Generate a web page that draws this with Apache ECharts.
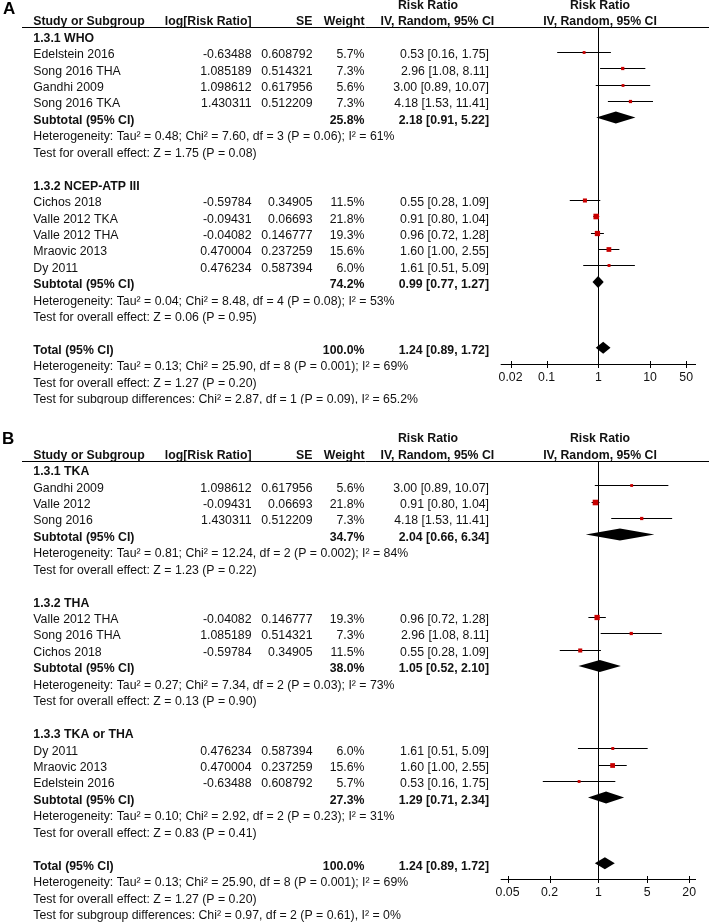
<!DOCTYPE html>
<html><head><meta charset="utf-8">
<script src="https://cdn.jsdelivr.net/npm/echarts@6/dist/echarts.min.js"></script>
<style>html,body{margin:0;padding:0;background:#fff}#c{width:709px;height:922px}</style>
</head><body><div id="c"></div>
<script>
// ---------------- Panel A data ----------------
const aGroupNames = ['1.3.1 WHO', '1.3.2 NCEP-ATP III'];
const aStudyGroup = [0, 0, 0, 0, 1, 1, 1, 1, 1];
const aStudyNames = ['Edelstein 2016', 'Song 2016 THA', 'Gandhi 2009', 'Song 2016 TKA',
  'Cichos 2018', 'Valle 2012 TKA', 'Valle 2012 THA', 'Mraovic 2013', 'Dy 2011'];
const aLogRR = ['-0.63488', '1.085189', '1.098612', '1.430311', '-0.59784', '-0.09431', '-0.04082', '0.470004', '0.476234'];
const aSE = ['0.608792', '0.514321', '0.617956', '0.512209', '0.34905', '0.06693', '0.146777', '0.237259', '0.587394'];
const aWeight = [5.7, 7.3, 5.6, 7.3, 11.5, 21.8, 19.3, 15.6, 6.0];
const aRR = [0.53, 2.96, 3.00, 4.18, 0.55, 0.91, 0.96, 1.60, 1.61];
const aLow = [0.16, 1.08, 0.89, 1.53, 0.28, 0.80, 0.72, 1.00, 0.51];
const aHigh = [1.75, 8.11, 10.07, 11.41, 1.09, 1.04, 1.28, 2.55, 5.09];
const aSubWeight = [25.8, 74.2];
const aSubRR = [2.18, 0.99];
const aSubLow = [0.91, 0.77];
const aSubHigh = [5.22, 1.27];
const aSubHet = ['Heterogeneity: Tau² = 0.48; Chi² = 7.60, df = 3 (P = 0.06); I² = 61%',
  'Heterogeneity: Tau² = 0.04; Chi² = 8.48, df = 4 (P = 0.08); I² = 53%'];
const aSubTest = ['Test for overall effect: Z = 1.75 (P = 0.08)', 'Test for overall effect: Z = 0.06 (P = 0.95)'];
const aTotal = [100.0, 1.24, 0.89, 1.72];
const aTotalNotes = ['Heterogeneity: Tau² = 0.13; Chi² = 25.90, df = 8 (P = 0.001); I² = 69%',
  'Test for overall effect: Z = 1.27 (P = 0.20)',
  'Test for subgroup differences: Chi² = 2.87, df = 1 (P = 0.09), I² = 65.2%'];
const aAxisTicks = [0.02, 0.1, 1, 10, 50];
const aAxisRange = [0.01292, 77.4];

// ---------------- Panel B data ----------------
const bGroupNames = ['1.3.1 TKA', '1.3.2 THA', '1.3.3 TKA or THA'];
const bStudyGroup = [0, 0, 0, 1, 1, 1, 2, 2, 2];
const bStudyNames = ['Gandhi 2009', 'Valle 2012', 'Song 2016', 'Valle 2012 THA', 'Song 2016 THA', 'Cichos 2018',
  'Dy 2011', 'Mraovic 2013', 'Edelstein 2016'];
const bLogRR = ['1.098612', '-0.09431', '1.430311', '-0.04082', '1.085189', '-0.59784', '0.476234', '0.470004', '-0.63488'];
const bSE = ['0.617956', '0.06693', '0.512209', '0.146777', '0.514321', '0.34905', '0.587394', '0.237259', '0.608792'];
const bWeight = [5.6, 21.8, 7.3, 19.3, 7.3, 11.5, 6.0, 15.6, 5.7];
const bRR = [3.00, 0.91, 4.18, 0.96, 2.96, 0.55, 1.61, 1.60, 0.53];
const bLow = [0.89, 0.80, 1.53, 0.72, 1.08, 0.28, 0.51, 1.00, 0.16];
const bHigh = [10.07, 1.04, 11.41, 1.28, 8.11, 1.09, 5.09, 2.55, 1.75];
const bSubWeight = [34.7, 38.0, 27.3];
const bSubRR = [2.04, 1.05, 1.29];
const bSubLow = [0.66, 0.52, 0.71];
const bSubHigh = [6.34, 2.10, 2.34];
const bSubHet = ['Heterogeneity: Tau² = 0.81; Chi² = 12.24, df = 2 (P = 0.002); I² = 84%',
  'Heterogeneity: Tau² = 0.27; Chi² = 7.34, df = 2 (P = 0.03); I² = 73%',
  'Heterogeneity: Tau² = 0.10; Chi² = 2.92, df = 2 (P = 0.23); I² = 31%'];
const bSubTest = ['Test for overall effect: Z = 1.23 (P = 0.22)', 'Test for overall effect: Z = 0.13 (P = 0.90)',
  'Test for overall effect: Z = 0.83 (P = 0.41)'];
const bTotal = [100.0, 1.24, 0.89, 1.72];
const bTotalNotes = ['Heterogeneity: Tau² = 0.13; Chi² = 25.90, df = 8 (P = 0.001); I² = 69%',
  'Test for overall effect: Z = 1.27 (P = 0.20)',
  'Test for subgroup differences: Chi² = 0.97, df = 2 (P = 0.61), I² = 0%'];
const bAxisTicks = [0.05, 0.2, 1, 5, 20];
const bAxisRange = [0.0399, 25.06];

// ---------------- Header labels ----------------
const headerTop = ['Risk Ratio', 'Risk Ratio'];
const headerCols = ['Study or Subgroup', 'log[Risk Ratio]', 'SE', 'Weight', 'IV, Random, 95% CI', 'IV, Random, 95% CI'];

// ---------------- Layout ----------------
const FONT = '"Liberation Sans", Arial, Helvetica, sans-serif';
const FS = 12.3;
const ROW_H = 16.44;
const COL = { name: 33.3, logrr: 251.5, se: 312.5, weight: 364.5, ci: 489 };
const HDR_X = { rrTop: 428, ciHdr: 437.4, plot: 600 };
const PLOT_LEFT = 500.7, PLOT_RIGHT = 696;
const TEXT_COLOR = '#111';
const SQUARE_K = 1.2;
const DIAMOND_H = 12;
const MARK_DY = -3;
const TICK_HALF = 3.5;

function fmtCI(rr, lo, hi) { return rr.toFixed(2) + ' [' + lo.toFixed(2) + ', ' + hi.toFixed(2) + ']'; }

function buildPanel(d) {
  const cells = [], marks = [];
  cells.push({ row: -2, x: HDR_X.rrTop, align: 'center', text: headerTop[0], bold: true });
  cells.push({ row: -2, x: HDR_X.plot, align: 'center', text: headerTop[1], bold: true });
  cells.push({ row: -1, x: COL.name, align: 'left', text: headerCols[0], bold: true });
  cells.push({ row: -1, x: COL.logrr, align: 'right', text: headerCols[1], bold: true });
  cells.push({ row: -1, x: COL.se, align: 'right', text: headerCols[2], bold: true });
  cells.push({ row: -1, x: COL.weight, align: 'right', text: headerCols[3], bold: true });
  cells.push({ row: -1, x: HDR_X.ciHdr, align: 'center', text: headerCols[4], bold: true });
  cells.push({ row: -1, x: HDR_X.plot, align: 'center', text: headerCols[5], bold: true });
  let r = 0;
  d.groups.forEach((g, gi) => {
    cells.push({ row: r, x: COL.name, align: 'left', text: g, bold: true }); r++;
    d.studyGroup.forEach((sg, si) => {
      if (sg !== gi) return;
      cells.push({ row: r, x: COL.name, align: 'left', text: d.names[si] });
      cells.push({ row: r, x: COL.logrr, align: 'right', text: d.logrr[si] });
      cells.push({ row: r, x: COL.se, align: 'right', text: d.se[si] });
      cells.push({ row: r, x: COL.weight, align: 'right', text: d.weight[si].toFixed(1) + '%' });
      cells.push({ row: r, x: COL.ci, align: 'right', text: fmtCI(d.rr[si], d.lo[si], d.hi[si]) });
      marks.push({ row: r, kind: 'study', rr: d.rr[si], lo: d.lo[si], hi: d.hi[si], w: d.weight[si] });
      r++;
    });
    cells.push({ row: r, x: COL.name, align: 'left', text: 'Subtotal (95% CI)', bold: true });
    cells.push({ row: r, x: COL.weight, align: 'right', text: d.subW[gi].toFixed(1) + '%', bold: true });
    cells.push({ row: r, x: COL.ci, align: 'right', text: fmtCI(d.subRR[gi], d.subLo[gi], d.subHi[gi]), bold: true });
    marks.push({ row: r, kind: 'diamond', rr: d.subRR[gi], lo: d.subLo[gi], hi: d.subHi[gi] });
    r++;
    cells.push({ row: r, x: COL.name, align: 'left', text: d.het[gi] }); r++;
    cells.push({ row: r, x: COL.name, align: 'left', text: d.test[gi] }); r++;
    r++;
  });
  cells.push({ row: r, x: COL.name, align: 'left', text: 'Total (95% CI)', bold: true });
  cells.push({ row: r, x: COL.weight, align: 'right', text: d.total[0].toFixed(1) + '%', bold: true });
  cells.push({ row: r, x: COL.ci, align: 'right', text: fmtCI(d.total[1], d.total[2], d.total[3]), bold: true });
  marks.push({ row: r, kind: 'diamond', rr: d.total[1], lo: d.total[2], hi: d.total[3] });
  r++;
  d.notes.forEach(n => { cells.push({ row: r, x: COL.name, align: 'left', text: n }); r++; });
  return { cells, marks };
}

const panels = [
  { groups: aGroupNames, studyGroup: aStudyGroup, names: aStudyNames, logrr: aLogRR, se: aSE, weight: aWeight,
    rr: aRR, lo: aLow, hi: aHigh, subW: aSubWeight, subRR: aSubRR, subLo: aSubLow, subHi: aSubHigh,
    het: aSubHet, test: aSubTest, total: aTotal, notes: aTotalNotes, ticks: aAxisTicks, range: aAxisRange,
    row0: 38.3, topY: 27.3, axisY: 363.7 },
  { groups: bGroupNames, studyGroup: bStudyGroup, names: bStudyNames, logrr: bLogRR, se: bSE, weight: bWeight,
    rr: bRR, lo: bLow, hi: bHigh, subW: bSubWeight, subRR: bSubRR, subLo: bSubLow, subHi: bSubHigh,
    het: bSubHet, test: bSubTest, total: bTotal, notes: bTotalNotes, ticks: bAxisTicks, range: bAxisRange,
    row0: 471.7, topY: 460.7, axisY: 879 }
];

const grid = [], xAxis = [], yAxis = [], series = [];
panels.forEach((p, pi) => {
  const built = buildPanel(p);
  const yMin = (p.topY - p.row0) / ROW_H;
  const yMax = (p.axisY - p.row0) / ROW_H;
  grid.push({ left: PLOT_LEFT, width: PLOT_RIGHT - PLOT_LEFT, top: p.topY, height: p.axisY - p.topY, containLabel: false });
  const fmt = v => String(parseFloat(Number(v).toPrecision(4)));
  xAxis.push({
    type: 'log', logBase: 10, gridIndex: pi, min: p.range[0], max: p.range[1], position: 'bottom',
    axisLine: { show: false, onZero: false },
    axisTick: { show: false },
    axisLabel: { show: true, customValues: p.ticks, formatter: fmt, color: TEXT_COLOR, fontSize: FS, fontFamily: FONT, margin: 7.5 },
    splitLine: { show: false }, minorTick: { show: false }
  });
  yAxis.push({ type: 'value', gridIndex: pi, inverse: true, min: yMin, max: yMax, show: false, splitLine: { show: false } });
  const xi = pi, yi = pi;

  // frame: header underline + reference line at RR = 1
  series.push({
    type: 'custom', xAxisIndex: xi, yAxisIndex: yi, silent: true, z: 1,
    data: [[1, yMin, yMax]],
    renderItem: (params, api) => {
      const t = api.coord([1, api.value(1)]);
      const b = api.coord([1, api.value(2)]);
      const vx = Math.round(t[0]) + 0.5;
      const uy = Math.round(t[1]) + 0.5;
      return { type: 'group', children: [
        { type: 'line', shape: { x1: 22, y1: uy, x2: 709, y2: uy }, style: { stroke: '#000', lineWidth: 1 } },
        { type: 'line', shape: { x1: vx, y1: uy, x2: vx, y2: b[1] }, style: { stroke: '#000', lineWidth: 1 } }
      ] };
    }
  });

  // x axis line and crossing ticks
  const ticks = p.ticks;
  series.push({
    type: 'custom', xAxisIndex: xi, yAxisIndex: yi, silent: true, z: 2,
    data: ticks.map(t => [t, yMax]),
    renderItem: (params, api) => {
      const pt = api.coord([api.value(0), api.value(1)]);
      const ay = Math.round(pt[1]) + 0.5;
      const tx = Math.round(pt[0]) + 0.5;
      const children = [
        { type: 'line', shape: { x1: tx, y1: ay - TICK_HALF, x2: tx, y2: ay + TICK_HALF }, style: { stroke: '#000', lineWidth: 1 } }
      ];
      if (params.dataIndex === 0) {
        const cs = params.coordSys;
        children.push({ type: 'line', shape: { x1: cs.x, y1: ay, x2: cs.x + cs.width, y2: ay }, style: { stroke: '#000', lineWidth: 1 } });
      }
      return { type: 'group', children };
    }
  });

  // text cells
  const cells = built.cells;
  series.push({
    type: 'custom', xAxisIndex: xi, yAxisIndex: yi, silent: true, z: 3,
    data: cells.map((c, i) => [1, c.row, i]),
    renderItem: (params, api) => {
      const c = cells[params.dataIndex];
      const pt = api.coord([1, api.value(1)]);
      return { type: 'text', x: c.x, y: pt[1], style: {
        text: c.text, fill: TEXT_COLOR, align: c.align, verticalAlign: 'middle',
        font: (c.bold ? 'bold ' : '') + FS + 'px ' + FONT } };
    }
  });

  // forest marks
  const marks = built.marks;
  series.push({
    type: 'custom', xAxisIndex: xi, yAxisIndex: yi, silent: true, z: 4,
    data: marks.map((m, i) => [m.rr, m.row, m.lo, m.hi, i]),
    renderItem: (params, api) => {
      const m = marks[params.dataIndex];
      const c = api.coord([api.value(0), api.value(1)]);
      const l = api.coord([api.value(2), api.value(1)]);
      const h = api.coord([api.value(3), api.value(1)]);
      const y = c[1] + MARK_DY;
      if (m.kind === 'study') {
        const ly = Math.round(y) + 0.5;
        const s = SQUARE_K * Math.sqrt(m.w);
        return { type: 'group', children: [
          { type: 'line', shape: { x1: l[0], y1: ly, x2: h[0], y2: ly }, style: { stroke: '#000', lineWidth: 1 } },
          { type: 'rect', shape: { x: c[0] - s / 2, y: ly - s / 2, width: s, height: s }, style: { fill: '#c80000' } }
        ] };
      }
      return { type: 'polygon', shape: { points: [[l[0], y], [c[0], y - DIAMOND_H / 2], [h[0], y], [c[0], y + DIAMOND_H / 2]] },
        style: { fill: '#000' } };
    }
  });
});

const chart = echarts.init(document.getElementById('c'), null, { renderer: 'canvas', width: 709, height: 922 });
chart.setOption({
  animation: false,
  backgroundColor: '#fff',
  title: [
    { text: 'A', left: 3, top: 0.5, padding: 0, textStyle: { fontSize: 17, fontWeight: 'bold', color: '#000', fontFamily: FONT, lineHeight: 17 } },
    { text: 'B', left: 2, top: 430.7, padding: 0, textStyle: { fontSize: 17, fontWeight: 'bold', color: '#000', fontFamily: FONT, lineHeight: 17 } }
  ],
  grid, xAxis, yAxis, series,
  graphic: [
    { type: 'rect', left: 0, top: 404, z: 100, shape: { width: 709, height: 18 }, style: { fill: '#fff' } }
  ]
});
</script>
</body></html>
